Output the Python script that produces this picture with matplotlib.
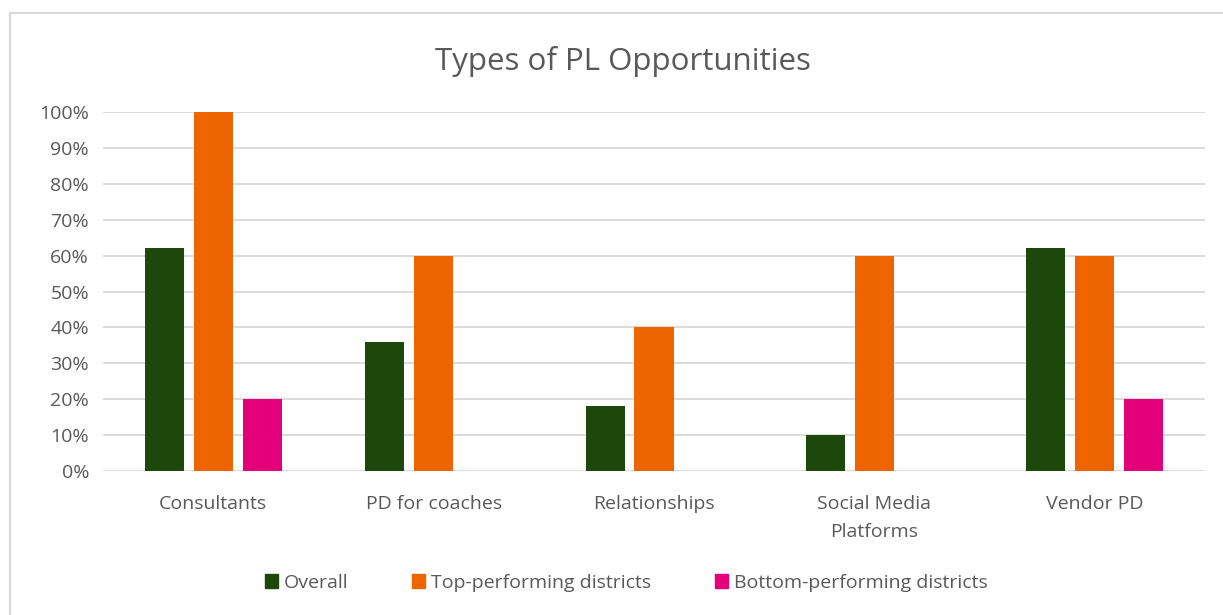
import numpy as np
import matplotlib.pyplot as plt
from matplotlib.lines import Line2D
from matplotlib.ticker import PercentFormatter

categories = ["Consultants", "PD for coaches", "Relationships", "Social Media\nPlatforms", "Vendor PD"]
overall = [62, 36, 18, 10, 62]
top_perf = [100, 60, 40, 60, 60]
bottom_perf = [20, 0, 0, 0, 20]
series_names = ["Overall", "Top-performing districts", "Bottom-performing districts"]
colors = ["#1c480c", "#ee6500", "#e4007a"]

plt.rcParams['font.family'] = ['Open Sans', 'DejaVu Sans']
text_col = '#595959'

fig = plt.figure(figsize=(12.23, 6.15), dpi=100)
ax = fig.add_axes([0.0842, 0.2341, 0.9011, 0.5838])

x = np.arange(len(categories))
w = 0.177
off = 0.222
for i, vals in enumerate([overall, top_perf, bottom_perf]):
    ax.bar(x + (i - 1) * off, vals, width=w, color=colors[i], zorder=3)

ax.set_xlim(-0.5, len(categories) - 0.5)
ax.set_ylim(0, 100)
ax.set_yticks(np.arange(0, 101, 10))
ax.yaxis.set_major_formatter(PercentFormatter(decimals=0))
ax.grid(axis='y', color='#d9d9d9', lw=1.3, zorder=0)
for s in ax.spines.values():
    s.set_visible(False)
ax.tick_params(axis='both', length=0, labelsize=14, labelcolor=text_col)
ax.tick_params(axis='y', pad=10)
ax.tick_params(axis='x', pad=17)
ax.set_xticks(x)
ax.set_xticklabels(categories, linespacing=1.75)

fig.suptitle("Types of PL Opportunities", x=0.509, y=0.925, fontsize=22.5, color=text_col)

handles = [plt.Rectangle((0, 0), 1, 1, color=c) for c in colors]
fig.legend(handles, series_names, loc='center', bbox_to_anchor=(0.512, 0.052), ncol=3,
           frameon=False, fontsize=14, labelcolor=text_col, handlelength=0.65,
           handleheight=0.7, handletextpad=0.3, columnspacing=3.3)

# outer chart border
fig.add_artist(Line2D([10 / 1223, 1.0], [1 - 13 / 615, 1 - 13 / 615], color='#d9d9d9', lw=1.5))
fig.add_artist(Line2D([10 / 1223, 10 / 1223], [0, 1 - 13 / 615], color='#d9d9d9', lw=1.5))

fig.savefig("out.png", dpi=100)
